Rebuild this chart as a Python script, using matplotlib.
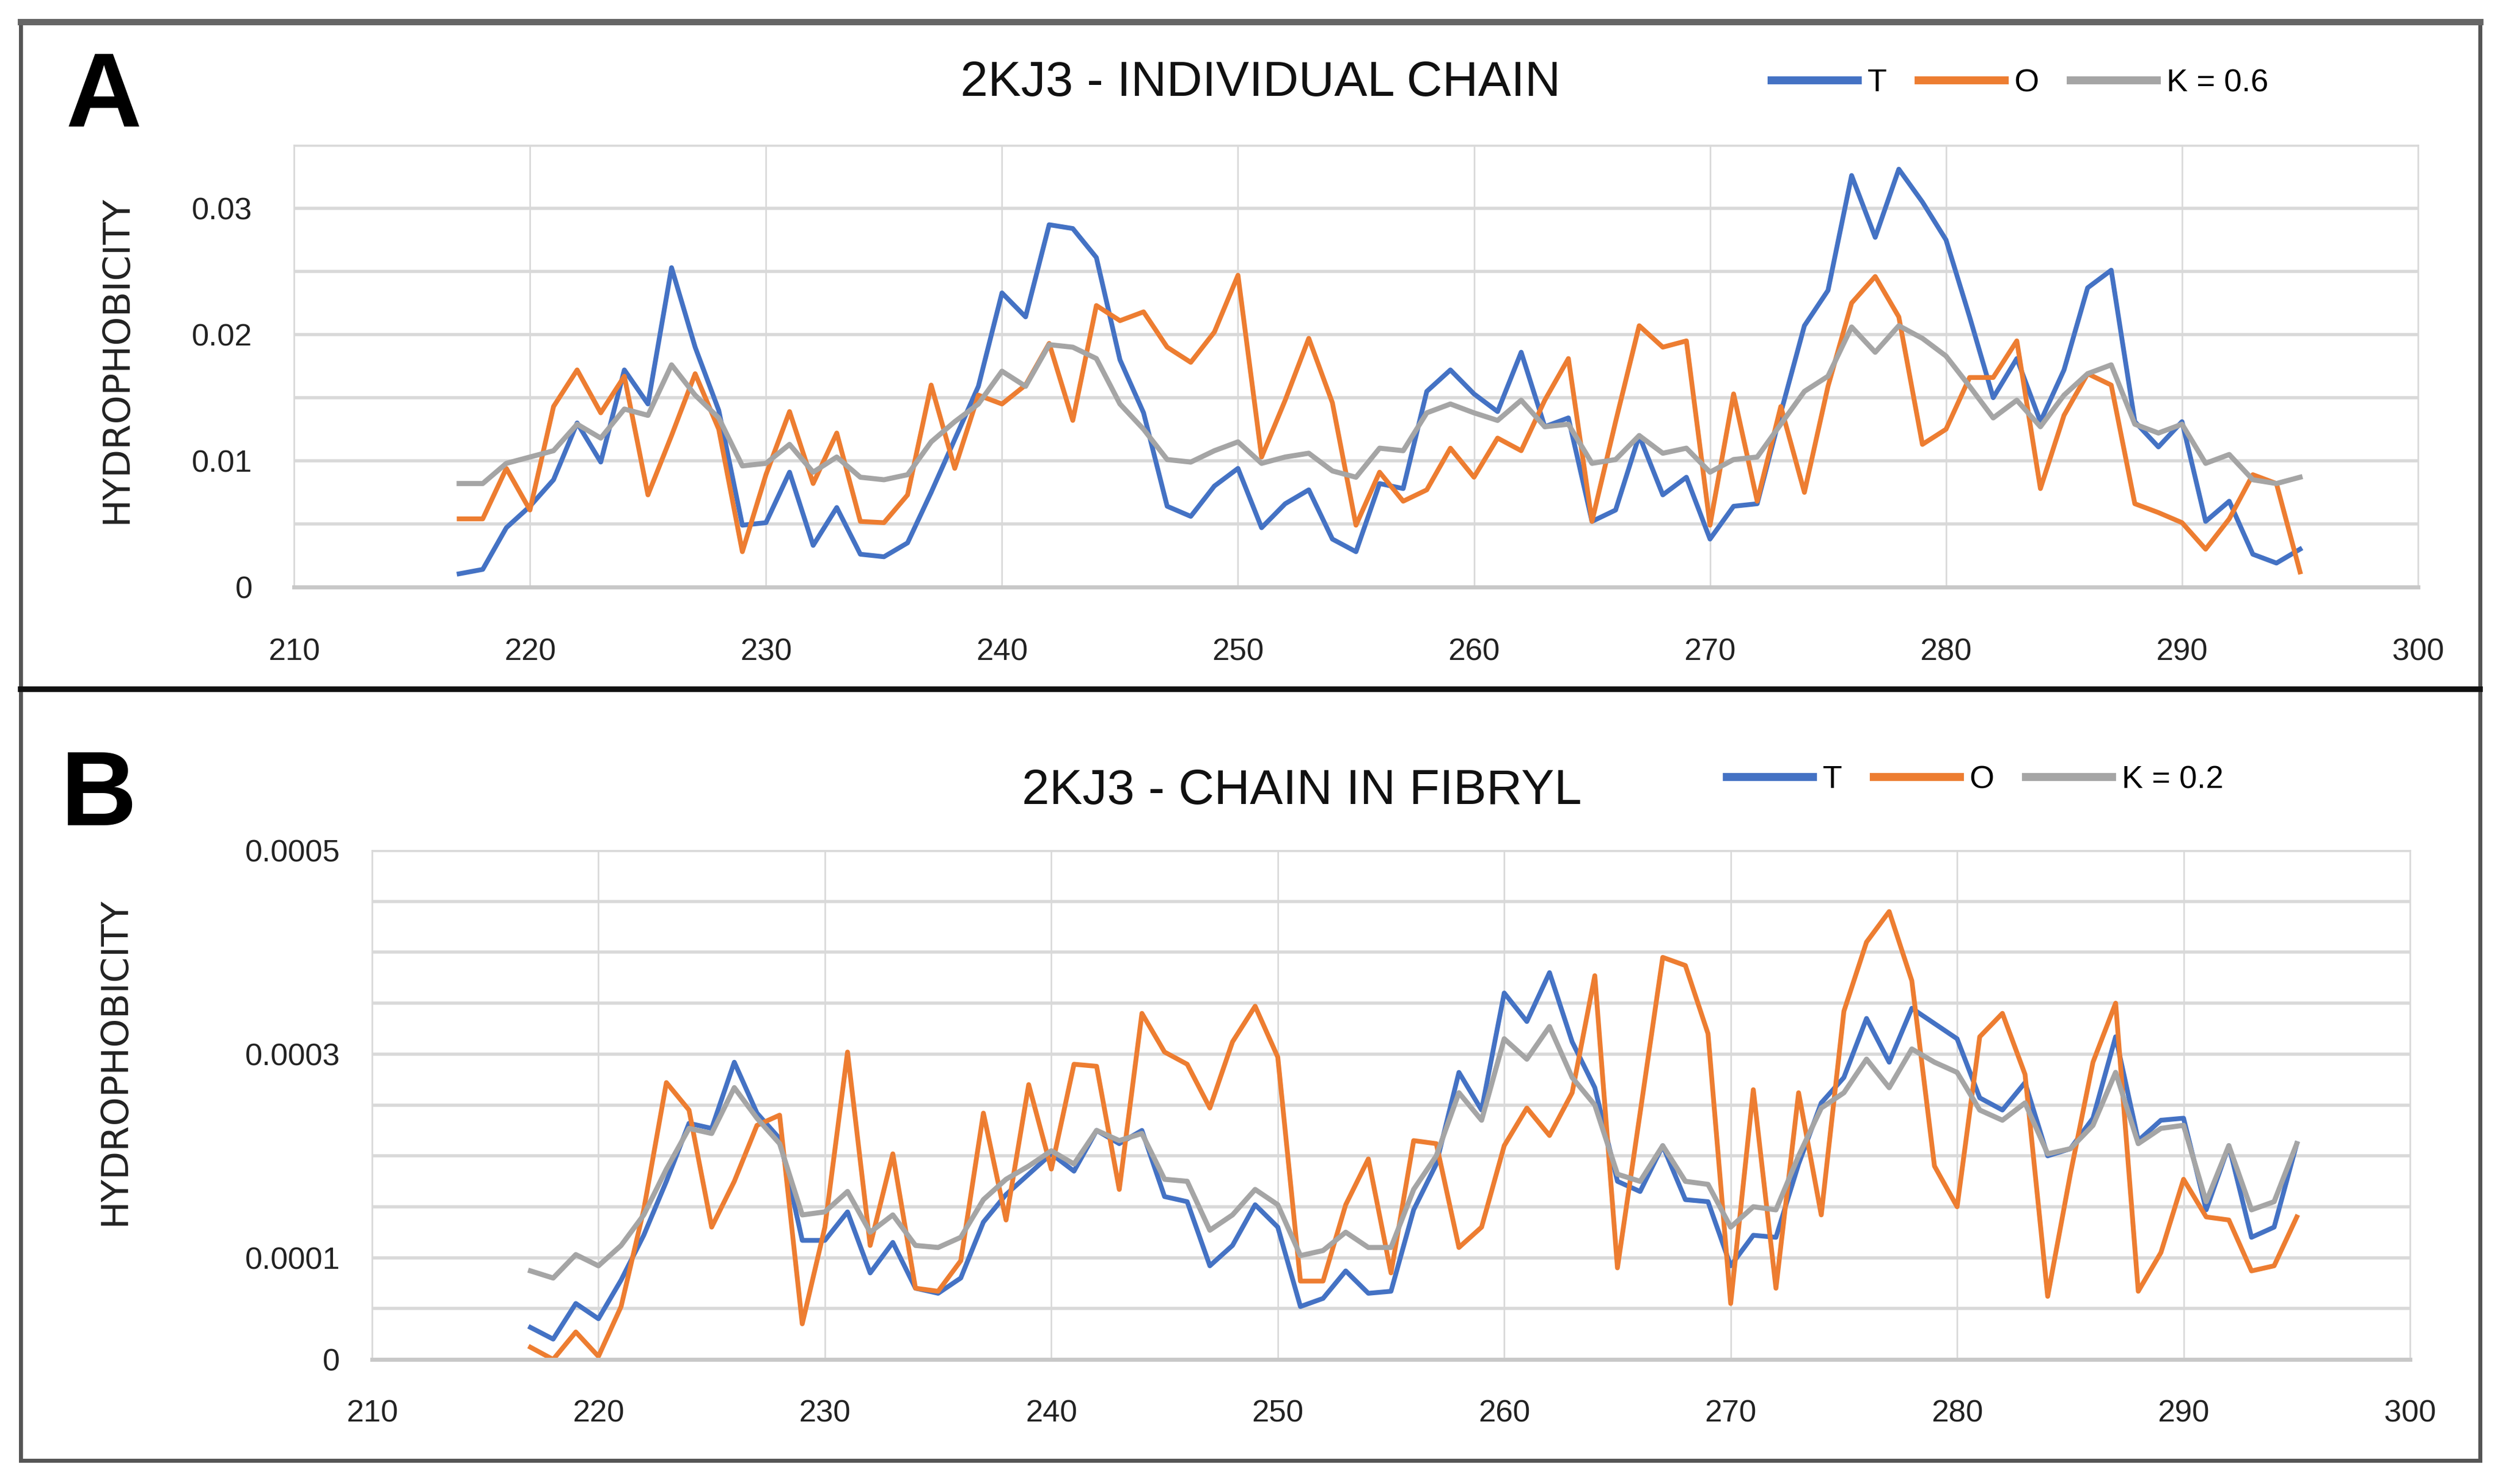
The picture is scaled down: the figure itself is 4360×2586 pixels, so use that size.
import numpy as np
import matplotlib
matplotlib.use("Agg")
import matplotlib.pyplot as plt
from matplotlib.lines import Line2D
from matplotlib.patches import Rectangle

plt.rcParams['font.family'] = ['Liberation Sans', 'DejaVu Sans']

# residue numbers
residues = np.arange(217, 296)

# panel A - individual chain
t_a = [0.00105, 0.0014, 0.0047, 0.0064, 0.0085, 0.013, 0.0099, 0.0172, 0.0145, 0.0253,
       0.019, 0.014, 0.0049, 0.0051, 0.0091, 0.0033, 0.0063, 0.0026, 0.0024, 0.0035,
       0.0075, 0.0117, 0.0159, 0.0233, 0.0214, 0.0287, 0.0284, 0.0261, 0.018, 0.0138,
       0.0064, 0.0056, 0.008, 0.0094, 0.0047, 0.0066, 0.0077, 0.0038, 0.0028, 0.0082,
       0.0078, 0.0155, 0.0172, 0.0153, 0.0139, 0.0186, 0.0127, 0.0134, 0.0052, 0.0061,
       0.012, 0.0073, 0.0087, 0.0038, 0.0064, 0.0066, 0.0138, 0.0207, 0.0235, 0.0326,
       0.0277, 0.0331, 0.0305, 0.0275, 0.0214, 0.015, 0.0181, 0.0131, 0.0172, 0.0237,
       0.0251, 0.0131, 0.0111, 0.0131, 0.0052, 0.0068, 0.0026, 0.0019, 0.003]
o_a = [0.0054, 0.0054, 0.0094, 0.0061, 0.0143, 0.0172, 0.0138, 0.0167, 0.0073, 0.012,
       0.0169, 0.0125, 0.0028, 0.0089, 0.0139, 0.0082, 0.0122, 0.0052, 0.0051, 0.0073,
       0.016, 0.0094, 0.0152, 0.0145, 0.016, 0.0193, 0.0132, 0.0223, 0.0211, 0.0218,
       0.019, 0.0178, 0.0202, 0.0247, 0.0103, 0.0148, 0.0197, 0.0146, 0.0049, 0.0091,
       0.0068, 0.0077, 0.011, 0.0087, 0.0118, 0.0108, 0.0148, 0.0181, 0.0052, 0.0131,
       0.0207, 0.019, 0.0195, 0.0049, 0.0153, 0.0068, 0.0143, 0.0075, 0.0159, 0.0225,
       0.0246, 0.0214, 0.0113, 0.0125, 0.0166, 0.0166, 0.0195, 0.0078, 0.0136, 0.0169,
       0.016, 0.0066, 0.0059, 0.0051, 0.003, 0.0054, 0.0089, 0.0082, 0.0012]
k_a = [0.0082, 0.0082, 0.0098, 0.0103, 0.0108, 0.0129, 0.0118, 0.0141, 0.0136, 0.0176,
       0.0152, 0.0134, 0.0096, 0.0098, 0.0113, 0.0091, 0.0103, 0.0087, 0.0085, 0.0089,
       0.0115, 0.0131, 0.0145, 0.0171, 0.0159, 0.0192, 0.019, 0.0181, 0.0145, 0.0125,
       0.0101, 0.0099, 0.0108, 0.0115, 0.0098, 0.0103, 0.0106, 0.0092, 0.0087, 0.011,
       0.0108, 0.0138, 0.0145, 0.0138, 0.0132, 0.0148, 0.0127, 0.0129, 0.0098, 0.0101,
       0.012, 0.0106, 0.011, 0.0091, 0.0101, 0.0103, 0.0129, 0.0155, 0.0167, 0.0206,
       0.0186, 0.0207, 0.0197, 0.0183, 0.0159, 0.0134, 0.0148, 0.0127, 0.0152, 0.0169,
       0.0176, 0.0129, 0.0122, 0.0129, 0.0098, 0.0105, 0.0085, 0.0082, 0.0087]

# panel B - chain in fibryl (values in units of 1e-4)
t_b = [0.315, 0.2, 0.55, 0.4, 0.78, 1.22, 1.75, 2.32, 2.27, 2.92,
       2.42, 2.17, 1.17, 1.17, 1.45, 0.85, 1.15, 0.7, 0.65, 0.8,
       1.35, 1.62, 1.82, 2.02, 1.85, 2.25, 2.12, 2.25, 1.6, 1.55,
       0.92, 1.12, 1.52, 1.3, 0.52, 0.6, 0.87, 0.65, 0.67, 1.47,
       1.92, 2.82, 2.45, 3.6, 3.32, 3.8, 3.12, 2.67, 1.75, 1.65,
       2.1, 1.57, 1.55, 0.92, 1.22, 1.2, 1.92, 2.52, 2.77, 3.35,
       2.92, 3.45, 3.3, 3.15, 2.57, 2.45, 2.72, 2.0, 2.07, 2.37,
       3.17, 2.15, 2.35, 2.37, 1.47, 2.1, 1.2, 1.3, 2.12]
o_b = [0.12, 0.0, 0.27, 0.03, 0.52, 1.47, 2.72, 2.45, 1.3, 1.75,
       2.3, 2.4, 0.35, 1.3, 3.02, 1.12, 2.02, 0.7, 0.67, 0.97,
       2.42, 1.37, 2.7, 1.87, 2.9, 2.88, 1.67, 3.4, 3.02, 2.9,
       2.47, 3.12, 3.47, 2.97, 0.77, 0.77, 1.52, 1.97, 0.85, 2.15,
       2.12, 1.1, 1.3, 2.1, 2.47, 2.2, 2.62, 3.77, 0.9, 2.42,
       3.95, 3.87, 3.2, 0.55, 2.65, 0.7, 2.62, 1.42, 3.42, 4.1,
       4.4, 3.72, 1.9, 1.5, 3.17, 3.4, 2.8, 0.62, 1.82, 2.92,
       3.5, 0.67, 1.05, 1.77, 1.4, 1.37, 0.87, 0.92, 1.4]
k_b = [0.87, 0.8, 1.03, 0.92, 1.12, 1.42, 1.87, 2.27, 2.22, 2.67,
       2.37, 2.12, 1.42, 1.45, 1.65, 1.25, 1.42, 1.12, 1.1, 1.2,
       1.57, 1.77, 1.9, 2.05, 1.92, 2.25, 2.15, 2.22, 1.77, 1.75,
       1.27, 1.42, 1.67, 1.52, 1.02, 1.07, 1.25, 1.1, 1.1, 1.67,
       2.0, 2.62, 2.35, 3.15, 2.95, 3.27, 2.77, 2.5, 1.82, 1.75,
       2.1, 1.75, 1.72, 1.3, 1.5, 1.47, 2.0, 2.47, 2.62, 2.95,
       2.67, 3.05, 2.92, 2.82, 2.45, 2.35, 2.52, 2.02, 2.07, 2.3,
       2.82, 2.12, 2.27, 2.3, 1.55, 2.1, 1.47, 1.55, 2.12]
b_scale = 1e-4

x_ticks = [210, 220, 230, 240, 250, 260, 270, 280, 290, 300]
ticks_a = [0, 0.01, 0.02, 0.03]
labels_a = ['0', '0.01', '0.02', '0.03']
ticks_b = [0, 0.0001, 0.0003, 0.0005]
labels_b = ['0', '0.0001', '0.0003', '0.0005']

colors = ['#4472C4', '#ED7D31', '#A5A5A5']
W, H = 4360, 2586
fig = plt.figure(figsize=(W / 200, H / 200), dpi=200)


def setup(ax, ymax, ystep, yt, yl, ypad, xpad):
    ax.set_xlim(210, 300)
    ax.set_ylim(0, ymax)
    ax.set_xticks(x_ticks)
    ax.set_yticks(np.arange(0, ymax + ystep / 2, ystep), minor=True)
    ax.set_yticks(yt)
    ax.set_yticklabels(yl)
    ax.tick_params(axis='both', which='both', length=0, labelsize=19.5, colors='#222222')
    ax.tick_params(axis='y', pad=ypad)
    ax.tick_params(axis='x', pad=xpad)
    ax.grid(axis='x', color='#D9D9D9', lw=1.0)
    ax.grid(axis='y', which='both', color='#D9D9D9', lw=2.0)
    for s in ['left', 'right', 'top']:
        ax.spines[s].set_color('#D9D9D9')
        ax.spines[s].set_linewidth(1.0)
    ax.spines['bottom'].set_color('#C8C8C8')
    ax.spines['bottom'].set_linewidth(2.5)
    ax.set_axisbelow(True)


# panel A
ax1 = fig.add_axes([512 / W, 1 - 1023 / H, 3700 / W, 770 / H])
setup(ax1, 0.035, 0.005, ticks_a, labels_a, 26, 32)
ax1.plot(residues, t_a, color=colors[0], lw=3.0)
ax1.plot(residues, o_a, color=colors[1], lw=3.0)
ax1.plot(residues, k_a, color=colors[2], lw=3.2)

# panel B
ax2 = fig.add_axes([648 / W, 1 - 2369 / H, 3550 / W, 887 / H])
setup(ax2, 0.0005, 0.00005, ticks_b, labels_b, 20, 25)
ax2.plot(residues, np.array(t_b) * b_scale, color=colors[0], lw=3.0)
ax2.plot(residues, np.array(o_b) * b_scale, color=colors[1], lw=3.0)
ax2.plot(residues, np.array(k_b) * b_scale, color=colors[2], lw=3.2)

# titles, labels
fig.text(2196 / W, 1 - 145 / H, '2KJ3 - INDIVIDUAL CHAIN', ha='center', va='center', fontsize=31, color='#111111')
fig.text(2268 / W, 1 - 1379 / H, '2KJ3 - CHAIN IN FIBRYL', ha='center', va='center', fontsize=31, color='#111111')
fig.text(181 / W, 1 - 172 / H, 'A', ha='center', va='center', fontsize=66, fontweight='bold')
fig.text(172 / W, 1 - 1390 / H, 'B', ha='center', va='center', fontsize=66, fontweight='bold')
fig.text(203 / W, 1 - 626 / H, 'HYDROPHOBICITY', rotation=90, ha='center', va='center',
         fontsize=23, family='DejaVu Sans', color='#222222')
fig.text(200 / W, 1 - 1849 / H, 'HYDROPHOBICITY', rotation=90, ha='center', va='center',
         fontsize=23, family='DejaVu Sans', color='#222222')

# legends
def legend(names, x, y):
    handles = [Line2D([], [], color=c, lw=5) for c in colors]
    fig.legend(handles, names, loc='center left', bbox_to_anchor=(x, y), ncol=3, frameon=False,
               fontsize=20, handlelength=2.7, handletextpad=0.3, columnspacing=1.0,
               borderaxespad=0, borderpad=0)

legend(['T', 'O', 'K = 0.6'], 3086 / W, 1 - 145 / H)
legend(['T', 'O', 'K = 0.2'], 3008 / W, 1 - 1359 / H)

# outer frame and divider
fig.patches.append(Rectangle((36 / W, 1 - 2545 / H), 4284 / W, 2509 / H, transform=fig.transFigure,
                             fill=False, edgecolor='#555555', lw=2.5))
fig.add_artist(Line2D([36 / W, 4320 / W], [1 - 38 / H, 1 - 38 / H], color='#666666', lw=4))
fig.add_artist(Line2D([36 / W, 4320 / W], [1 - 1201 / H, 1 - 1201 / H], color='#111111', lw=3.5))

fig.savefig('out.png', dpi=200, facecolor='white')
